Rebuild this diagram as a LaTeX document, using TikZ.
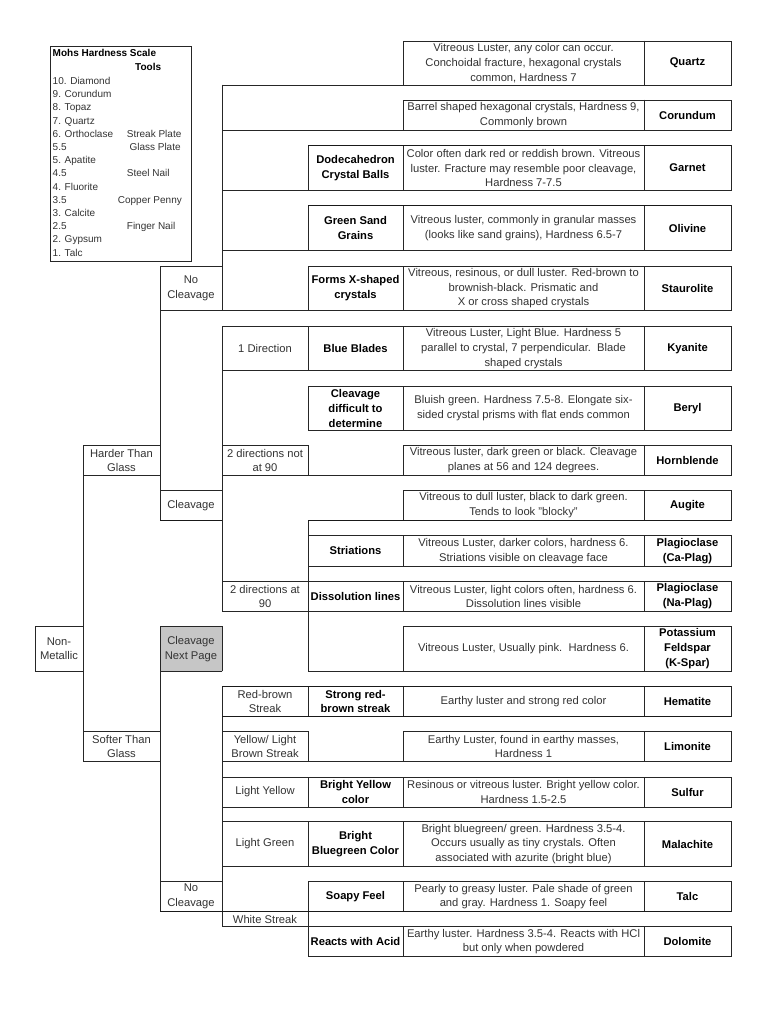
\documentclass[tikz,border=0pt]{standalone}
\usepackage{fontspec}
\setmainfont{Liberation Sans}
\newcommand\regf{\fontsize{11.2}{14.8}\selectfont}
\newcommand\smf{\fontsize{10}{13.2}\selectfont}
\begin{document}
\begin{tikzpicture}[x=1pt,y=-1pt,
  ln/.style={draw=black!85,line width=0.9pt,line cap=rect},
  thk/.style={draw=black!90,line width=1.8pt},
  tx/.style={font=\regf,text=black!80,align=center,inner sep=0pt},
  bx/.style={font=\regf\bfseries,text=black,align=center,inner sep=0pt},
  mh/.style={font=\smf,text=black!80,anchor=base west,inner sep=0pt},
  mhb/.style={font=\smf\bfseries,text=black,anchor=base west,inner sep=0pt}]
\useasboundingbox (0,0) rectangle (768,1024);
\fill[white] (0,0) rectangle (768,1024);
% grey cell
\fill[gray!45] (160,626.5) rectangle (222,671);
% Mohs box
\draw[ln] (50,46.5) rectangle (191.5,261);
% description boxes
\foreach \t/\b in {41/85,100/130,145.5/190.5,205.5/250.5,266/310.5,326.5/370.5,386/430.5,445.5/475.5,490.5/520.5,535.5/566,581.5/611.5,626.5/671,686.5/716.5,731.5/761.5,777/807,821.5/866.5,881.5/911.5,926.5/956.5}{
  \draw[ln] (403,\t) rectangle (731,\b);
  \draw[ln] (644,\t) -- (644,\b);
}
% horizontal lines
\foreach \y/\a/\b in {85/222/731,130/222/731,190.5/222/731,250.5/222/731,266/160/222,266/308/731,310.5/160/731,326.5/222/731,370.5/222/731,386/308/731,430.5/308/731,445.5/83/160,445.5/222/308,475.5/83/160,475.5/222/731,490.5/160/222,535.5/308/731,566/308/731,581.5/222/731,611.5/222/731,626.5/35/83,626.5/160/222,671/35/83,671/160/222,671/308/731,731.5/83/160,731.5/222/308,761.5/83/160,761.5/222/731,777/222/731,807/222/731,821.5/222/731,866.5/222/731,881.5/160/222,881.5/308/731,926.5/222/731,956.5/308/731}{
  \draw[ln] (\a,\y) -- (\b,\y);
}
% vertical lines
\foreach \x/\a/\b in {35/626.5/671,83/445.5/761.5,160/266/520.5,160/626.5/911.5,222/85/310.5,222/326.5/611.5,222/626.5/671,222/686.5/926.5,308/145.5/190.5,308/205.5/250.5,308/266/310.5,308/326.5/370.5,308/386/430.5,308/445.5/475.5,308/520.5/671,308/686.5/716.5,308/731.5/761.5,308/777/807,308/821.5/866.5,308/881.5/956.5}{
  \draw[ln] (\x,\a) -- (\x,\b);
}
% thick lines
\foreach \y/\a/\b in {145.5/308/731,205.5/308/731,520.5/160/222,520.5/308/731,686.5/222/731,716.5/222/731,911.5/160/731}{
  \draw[thk] (\a,\y) -- (\b,\y);
}
% Mohs text
\node[mhb] (mohs) at (52.5,56.9) {Mohs Hardness Scale};
\node[mhb] (tools) at (135,70.9) {Tools};
\node[mh] (h10) at (52.5,84.6) {10. Diamond};
\node[mh] (h9) at (52.5,97.8) {9. Corundum};
\node[mh] (h8) at (52.5,111) {8. Topaz};
\node[mh] (h7) at (52.5,124.2) {7. Quartz};
\node[mh] (h6) at (52.5,137.4) {6. Orthoclase};
\node[mh] (h55) at (52.5,150.6) {5.5};
\node[mh] (h5) at (52.5,163.8) {5. Apatite};
\node[mh] (h45) at (52.5,177) {4.5};
\node[mh] (h4) at (52.5,190.2) {4. Fluorite};
\node[mh] (h35) at (52.5,203.4) {3.5};
\node[mh] (h3) at (52.5,216.6) {3. Calcite};
\node[mh] (h25) at (52.5,229.8) {2.5};
\node[mh] (h2) at (52.5,243) {2. Gypsum};
\node[mh] (h1) at (52.5,256.2) {1. Talc};
\node[mh] (t6) at (126.7,137.4) {Streak Plate};
\node[mh] (t55) at (129.3,150.6) {Glass Plate};
\node[mh] (t45) at (126.7,177) {Steel Nail};
\node[mh] (t35) at (117.7,203.4) {Copper Penny};
\node[mh] (t25) at (126.7,229.8) {Finger Nail};
% descriptions
\node[tx] (dqua) at (523.5,63) {Vitreous Luster, any color can occur.\\Conchoidal fracture, hexagonal crystals\\common, Hardness 7};
\node[tx] (dcor) at (523.5,115) {Barrel shaped hexagonal crystals, Hardness 9,\\Commonly brown};
\node[tx] (dgar) at (523.5,168) {Color often dark red or reddish brown. Vitreous\\luster. Fracture may resemble poor cleavage,\\Hardness 7-7.5};
\node[tx] (doli) at (523.5,228) {Vitreous luster, commonly in granular masses\\(looks like sand grains), Hardness 6.5-7};
\node[tx] (dsta) at (523.5,288.25) {Vitreous, resinous, or dull luster. Red-brown to\\brownish-black. Prismatic and\\X or cross shaped crystals};
\node[tx] (dkya) at (523.5,348.5) {Vitreous Luster, Light Blue. Hardness 5\\parallel to crystal, 7 perpendicular.\ \ Blade\\shaped crystals};
\node[tx] (dber) at (523.5,408.25) {Bluish green. Hardness 7.5-8. Elongate six-\\sided crystal prisms with flat ends common};
\node[tx] (dhor) at (523.5,460.5) {Vitreous luster, dark green or black. Cleavage\\planes at 56 and 124 degrees.};
\node[tx] (daug) at (523.5,505.5) {Vitreous to dull luster, black to dark green.\\Tends to look "blocky"};
\node[tx] (dcap) at (523.5,550.75) {Vitreous Luster, darker colors, hardness 6.\\Striations visible on cleavage face};
\node[tx] (dnap) at (523.5,596.5) {Vitreous Luster, light colors often, hardness 6.\\Dissolution lines visible};
\node[tx] (dksp) at (523.5,648.75) {Vitreous Luster, Usually pink.\ \ Hardness 6.};
\node[tx] (dhem) at (523.5,701.5) {Earthy luster and strong red color};
\node[tx] (dlim) at (523.5,746.5) {Earthy Luster, found in earthy masses,\\Hardness 1};
\node[tx] (dsul) at (523.5,792) {Resinous or vitreous luster. Bright yellow color.\\Hardness 1.5-2.5};
\node[tx] (dmal) at (523.5,844) {Bright bluegreen/ green. Hardness 3.5-4.\\Occurs usually as tiny crystals. Often\\associated with azurite (bright blue)};
\node[tx] (dtal) at (523.5,896.5) {Pearly to greasy luster. Pale shade of green\\and gray. Hardness 1. Soapy feel};
\node[tx] (ddol) at (523.5,941.5) {Earthy luster. Hardness 3.5-4. Reacts with HCl\\but only when powdered};
% minerals
\node[bx] (mqua) at (687.5,63) {Quartz};
\node[bx] (mcor) at (687.5,115) {Corundum};
\node[bx] (mgar) at (687.5,168) {Garnet};
\node[bx] (moli) at (687.5,228) {Olivine};
\node[bx] (msta) at (687.5,288.25) {Staurolite};
\node[bx] (mkya) at (687.5,348.5) {Kyanite};
\node[bx] (mber) at (687.5,408.25) {Beryl};
\node[bx] (mhor) at (687.5,460.5) {Hornblende};
\node[bx] (maug) at (687.5,505.5) {Augite};
\node[bx] (mcap) at (687.5,550.75) {Plagioclase\\(Ca-Plag)};
\node[bx] (mnap) at (687.5,596.5) {Plagioclase\\(Na-Plag)};
\node[bx] (mksp) at (687.5,648.75) {Potassium\\Feldspar\\(K-Spar)};
\node[bx] (mhem) at (687.5,701.5) {Hematite};
\node[bx] (mlim) at (687.5,746.5) {Limonite};
\node[bx] (msul) at (687.5,792) {Sulfur};
\node[bx] (mmal) at (687.5,844) {Malachite};
\node[bx] (mtal) at (687.5,896.5) {Talc};
\node[bx] (mdol) at (687.5,941.5) {Dolomite};
% column 5
\node[bx] (fdod) at (355.5,168) {Dodecahedron\\Crystal Balls};
\node[bx] (fgre) at (355.5,228) {Green Sand\\Grains};
\node[bx] (fxsh) at (355.5,288.25) {Forms X-shaped\\crystals};
\node[bx] (fblu) at (355.5,348.5) {Blue Blades};
\node[bx] (fcld) at (355.5,408.25) {Cleavage\\difficult to\\determine};
\node[bx] (fstr) at (355.5,550.75) {Striations};
\node[bx] (fdis) at (355.5,596.5) {Dissolution lines};
\node[bx] (fsrb) at (355.5,701.5) {Strong red-\\brown streak};
\node[bx] (fbyc) at (355.5,792) {Bright Yellow\\color};
\node[bx] (fbbc) at (355.5,844) {Bright\\Bluegreen Color};
\node[bx] (fsoa) at (355.5,896.5) {Soapy Feel};
\node[bx] (frea) at (355.5,941.5) {Reacts with Acid};
% column 4
\node[tx] (c1d) at (265,348.5) {1 Direction};
\node[tx] (c2n) at (265,460.5) {2 directions not\\at 90};
\node[tx] (c2a) at (265,596.5) {2 directions at\\90};
\node[tx] (crbs) at (265,701.5) {Red-brown\\Streak};
\node[tx] (cyls) at (265,746.5) {Yellow/ Light\\Brown Streak};
\node[tx] (cly) at (265,792) {Light Yellow};
\node[tx] (clg) at (265,844) {Light Green};
\node[tx] (cws) at (265,919) {White Streak};
% column 3
\node[tx] (nc1) at (191,288.25) {No\\Cleavage};
\node[tx] (cl1) at (191,505.5) {Cleavage};
\node[tx] (cnp) at (191,648.75) {Cleavage\\Next Page};
\node[tx] (nc2) at (191,896.5) {No\\Cleavage};
% column 2
\node[tx] (hard) at (121.5,460.5) {Harder Than\\Glass};
\node[tx] (soft) at (121.5,746.5) {Softer Than\\Glass};
% column 1
\node[tx] (nonm) at (59,648.75) {Non-\\Metallic};
\end{tikzpicture}
\end{document}
